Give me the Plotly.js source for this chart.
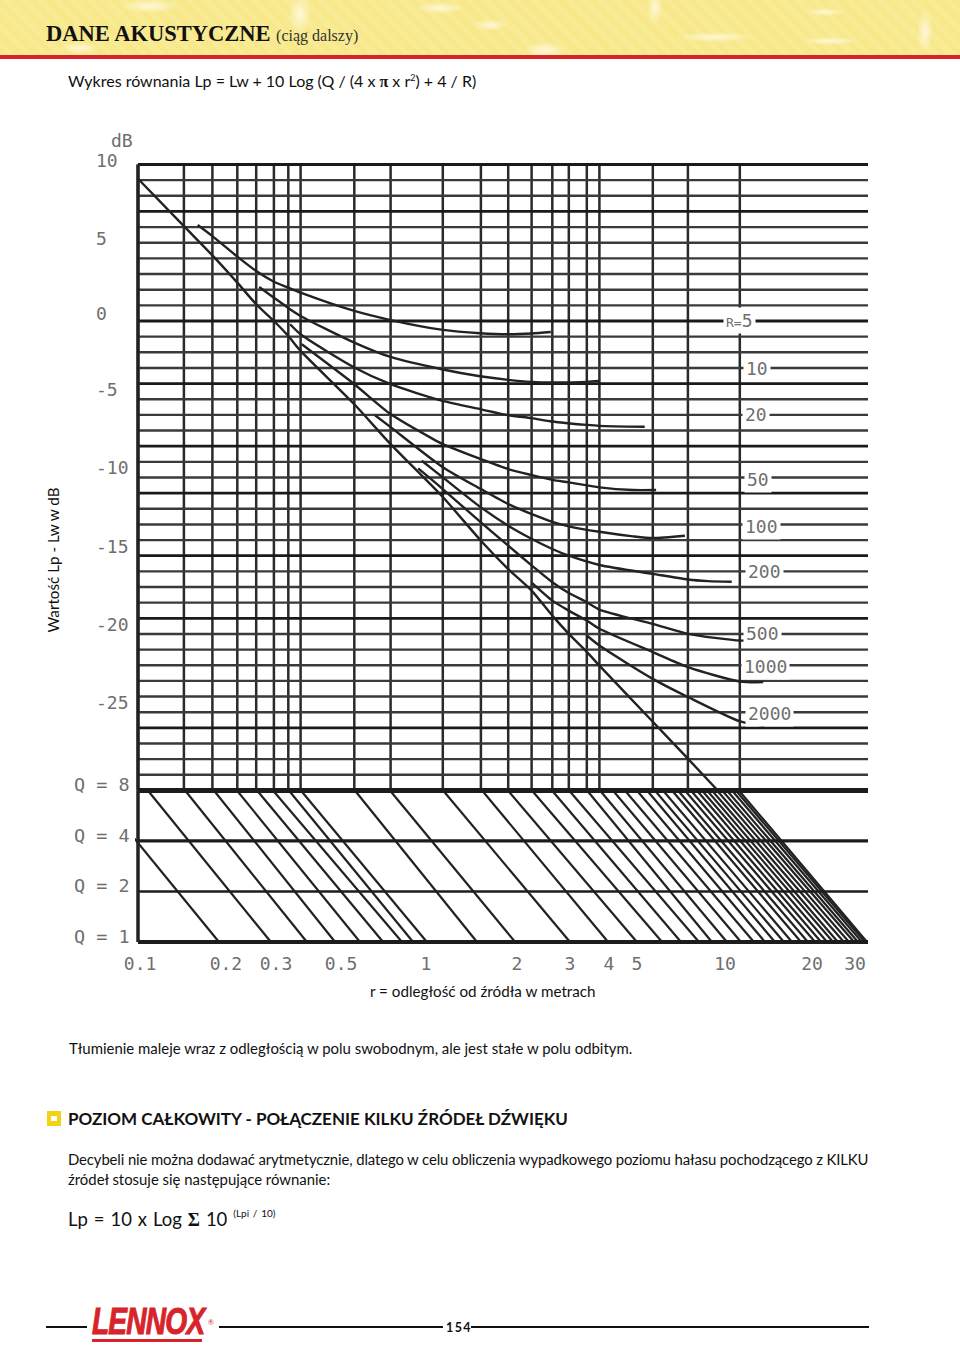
<!DOCTYPE html>
<html lang="pl"><head><meta charset="utf-8">
<script src="https://cdn.plot.ly/plotly-3.0.1.min.js"></script>
<style>
html,body{margin:0;padding:0;background:#fff}
#page{position:relative;width:960px;height:1345px;overflow:hidden;font-family:Lato,"Open Sans",sans-serif;color:#111}
#head{position:absolute;left:0;top:0;width:960px;height:55px;background:
 radial-gradient(ellipse 40px 5px at 715px 37px,#fff8d8 0,transparent 100%),
 radial-gradient(ellipse 30px 4px at 830px 41px,#fff8d8 0,transparent 100%),
 radial-gradient(ellipse 20px 4px at 825px 12px,#fff8d8 0,transparent 100%),
 radial-gradient(ellipse 8px 22px at 925px 32px,#fff8d8 0,transparent 100%),
 radial-gradient(ellipse 8px 16px at 655px 8px,#fff8d8 0,transparent 100%),
 radial-gradient(ellipse 22px 8px at 545px 50px,#fff8d8 0,transparent 100%),
 radial-gradient(ellipse 18px 6px at 490px 25px,#fff8d8 0,transparent 100%),
 radial-gradient(ellipse 25px 6px at 440px 8px,#fff8d8 0,transparent 100%),
 radial-gradient(ellipse 30px 7px at 150px 6px,#fff8d8 0,transparent 100%),
 radial-gradient(ellipse 20px 6px at 80px 48px,#fff8d8 0,transparent 100%),
 radial-gradient(ellipse 12px 20px at 300px 14px,#fff8d8 0,transparent 100%),
 repeating-linear-gradient(45deg,#f6e580 0 1px,#f9ee9e 1px 2px)}
#rule{position:absolute;left:0;top:55px;width:960px;height:4px;background:#d8232a}
.t{position:absolute;white-space:nowrap}
#plot{position:absolute;left:0;top:100px;width:868px;height:900px}
.hr{position:absolute;height:2px;background:#111}
</style></head><body><div id="page">
<div id="head"></div><div id="rule"></div>
<div class="t" style="left:46px;top:19px;font:bold 22.5px 'Liberation Serif',serif;line-height:30px">DANE AKUSTYCZNE <span style="font:16px 'Liberation Serif',serif;color:#333">(ciąg dalszy)</span></div>
<div class="t" style="left:68px;top:71px;font-size:16px;line-height:20px">Wykres równania Lp = Lw + 10 Log (Q / (4 x <b style="font-family:'Liberation Serif',serif">π</b> x r<sup style="font-size:9px;line-height:0">2</sup>) + 4 / R)</div>
<div id="plot"></div>
<div class="t" style="left:69px;top:1039px;font-size:14.95px;line-height:18px">Tłumienie maleje wraz z odległością w polu swobodnym, ale jest stałe w polu odbitym.</div>
<div style="position:absolute;left:47px;top:1111px;width:6px;height:5px;border:4px solid #f2d417;border-width:5px 4px;background:#fff"></div>
<div class="t" style="left:68px;top:1109px;font-size:17px;line-height:20px;font-weight:700">POZIOM CAŁKOWITY - POŁĄCZENIE KILKU ŹRÓDEŁ DŹWIĘKU</div>
<div class="t" style="left:68px;top:1150px;font-size:14.9px;line-height:18px;letter-spacing:-0.12px">Decybeli nie można dodawać arytmetycznie, dlatego w celu obliczenia wypadkowego poziomu hałasu pochodzącego z KILKU</div>
<div class="t" style="left:68px;top:1170px;font-size:14.9px;line-height:18px">źródeł stosuje się następujące równanie:</div>
<div class="t" style="left:68px;top:1207px;font-size:18.5px;line-height:24px;word-spacing:1.2px">Lp = 10 x Log <b style="font-family:'Liberation Serif',serif">Σ</b> 10 <sup style="font-size:10px;line-height:0;position:relative;top:-2px">(Lpi / 10)</sup></div>
<div class="hr" style="left:46px;top:1326px;width:41px"></div>
<div class="t" style="left:92px;top:1302px;width:140px;overflow:visible;font:italic bold 36px/40px 'Liberation Sans',sans-serif;color:#d8232a;letter-spacing:-1px;-webkit-text-stroke:1px #d8232a;transform-origin:0 50%;transform:scaleX(0.78)">LENNOX</div>
<div class="t" style="left:208px;top:1318px;font:7px/9px Lato,sans-serif;color:#d8232a">®</div>
<div style="position:absolute;left:92px;top:1339px;width:110px;height:3px;background:#d8232a"></div>
<div class="hr" style="left:219px;top:1326px;width:224px"></div>
<div class="t" style="left:446px;top:1319px;font-size:12.5px;line-height:17px;font-weight:700;letter-spacing:1.4px">154</div>
<div class="hr" style="left:471px;top:1326px;width:398px"></div>
</div>
<script>
// ---- values; distances are log10(r in metres), levels in dB ----
const gridLogR=[-1,-0.847,-0.752,-0.669,-0.606,-0.547,-0.499,-0.458,-0.279,-0.158,0.016,0.143,0.234,0.312,0.381,0.436,0.496,0.538,0.716,0.833,1.006];
const gridDbThin=[9,8,6,5,4,3,2,1,-1,-2,-3,-5,-6,-7,-9,-10,-12,-13,-14,-16,-17,-18,-20,-21,-22,-23,-24,-25,-27,-28,-29];
const gridDbThick=[10,7,0,-4,-8,-11,-15,-19,-26];
const qLevels=[8,4,2,1];
const qWidths=[5,3.2,2.4,4];

const directLogR=[-1,-0.847,-0.752,-0.669,-0.606,-0.547,-0.499,-0.458,-0.279,-0.158,0.016,0.143,0.234,0.312,0.381,0.436,0.496,0.538,0.716,0.833,0.927];
const directDb=[9.09,6.06,4.19,2.45,1.07,0,-0.96,-1.91,-5.32,-7.87,-11.25,-14.04,-15.85,-17.23,-18.83,-19.99,-21.14,-22.02,-25.61,-27.97,-29.89];

const r5LogR=[-0.801,-0.752,-0.669,-0.606,-0.547,-0.499,-0.458,-0.279,-0.158,0.016,0.14,0.234,0.312,0.376];
const r5Db=[6.13,5.42,4.11,3.19,2.51,2.13,1.81,0.64,0.06,-0.57,-0.78,-0.85,-0.80,-0.70];
const r10LogR=[-0.596,-0.547,-0.499,-0.458,-0.279,-0.158,0.016,0.14,0.234,0.312,0.38,0.496,0.537];
const r10Db=[2.17,1.49,0.83,0.32,-1.38,-2.30,-3.10,-3.53,-3.76,-3.89,-3.93,-3.89,-3.83];
const r20LogR=[-0.493,-0.458,-0.279,-0.158,0.016,0.14,0.234,0.312,0.38,0.496,0.537,0.689];
const r20Db=[-0.21,-0.85,-2.97,-4.04,-5.11,-5.63,-6.02,-6.21,-6.42,-6.64,-6.70,-6.76];
const r50LogR=[-0.454,-0.279,-0.158,-0.016,0.016,0.143,0.234,0.313,0.381,0.436,0.538,0.65,0.727];
const r50Db=[-1.49,-4.04,-5.95,-7.55,-7.87,-8.83,-9.46,-9.85,-10.15,-10.31,-10.63,-10.80,-10.80];
const r100LogR=[-0.21,-0.158,0.016,0.143,0.234,0.313,0.381,0.436,0.538,0.65,0.716,0.823];
const r100Db=[-6.02,-6.78,-9.34,-10.74,-11.70,-12.34,-12.83,-13.12,-13.47,-13.76,-13.87,-13.72];
const r200LogR=[-0.054,0.016,0.143,0.234,0.313,0.381,0.436,0.538,0.716,0.833,0.9,0.979];
const r200Db=[-8.93,-9.99,-11.91,-13.08,-13.93,-14.57,-15.0,-15.59,-16.16,-16.52,-16.62,-16.66];
const r500LogR=[-0.066,0.016,0.143,0.234,0.313,0.381,0.436,0.496,0.538,0.716,0.833,1.007,1.057];
const r500Db=[-9.42,-10.74,-12.87,-14.36,-15.63,-16.69,-17.38,-17.97,-18.44,-19.36,-19.99,-20.42,-20.38];
const r1000LogR=[0.313,0.381,0.436,0.496,0.538,0.716,0.833,1.007,1.084];
const r1000Db=[-16.74,-17.87,-18.51,-19.14,-19.67,-21.16,-22.12,-23.04,-23.08];
const r2000LogR=[0.496,0.538,0.716,0.833,1.007,1.088];
const r2000Db=[-20.10,-20.74,-22.87,-24.03,-25.59,-25.88];

const diagAtQ8=[-1.143,-0.967,-0.843,-0.747,-0.67,-0.603,-0.55,-0.497,-0.457,-0.277,-0.16,0.017,0.147,0.233,0.313,0.38,0.437,0.497,0.54,0.583,0.623,0.663,0.697,0.723,0.75,0.78,0.8,0.823,0.843,0.863,0.88,0.897,0.913,0.93,0.947,0.963,0.98,0.993,1.003];
const diagAtQ1=[-0.73,-0.557,-0.437,-0.343,-0.26,-0.183,-0.12,-0.083,-0.037,0.13,0.257,0.44,0.567,0.663,0.747,0.81,0.87,0.913,0.963,1.01,1.053,1.09,1.123,1.153,1.18,1.21,1.233,1.257,1.277,1.297,1.317,1.333,1.353,1.37,1.387,1.4,1.413,1.423,1.43];

const xTickText=["0.1","0.2","0.3","0.5","1","2","3","4","5","10","20","30"];
const xTickLogR=[-0.993,-0.707,-0.54,-0.323,-0.04,0.263,0.44,0.57,0.663,0.957,1.247,1.39];
const dbLabelText=["dB","10","5","0","-5","-10","-15","-20","-25"];
const dbLabelAt=[11.56,10.28,5.30,0.51,-4.35,-9.33,-14.37,-19.36,-24.34];
const dbLabelLeft=[-26,-41,-41,-41,-41,-41,-41,-41,-41];
const qLabelText=["Q = 8","Q = 4","Q = 2","Q = 1"];
const qLabelValue=[8,4,2,1];
const rLabelText=["<span style='font-size:13px'>R=</span>5","10","20","50","100","200","500","1000","2000"];
const rLabelLogR=[1.005,1.062,1.06,1.068,1.077,1.087,1.082,1.093,1.105];
const rLabelDb=[0,-3.06,-6.0,-10.15,-13.16,-16.03,-20.0,-22.1,-25.1];

// ---- plumbing ----
const ink='#222', grey='#6f6f6f', mono='"DejaVu Sans Mono","Liberation Mono",monospace';
const xMin=-1.01, xMax=1.4333;
const toR=a=>a.map(v=>Math.pow(10,v));
function segs(pairs){const x=[],y=[];pairs.forEach(p=>{x.push(p[0],p[2],null);y.push(p[1],p[3],null);});return {x,y};}
const traces=[];
function add(name,x,y,width,yaxis,color,smooth){traces.push({type:'scatter',mode:'lines',name,x,y,yaxis:yaxis||'y',hoverinfo:'skip',showlegend:false,line:smooth?{color:color||ink,width,shape:'spline',smoothing:0.7}:{color:color||ink,width}});}

let g=segs(gridLogR.map(v=>[Math.pow(10,v),-30,Math.pow(10,v),10]));
add('vertical grid',g.x,g.y,2.5,'y','#2a2a2a');
g=segs(gridDbThin.map(d=>[0.1,d,Math.pow(10,xMax),d]));
add('dB grid',g.x,g.y,2.4,'y','#3a3a3a');
g=segs(gridDbThick.map(d=>[0.1,d,Math.pow(10,xMax),d]));
add('dB grid bold',g.x,g.y,2.8,'y','#1a1a1a');
g=segs(diagAtQ8.map((v,i)=>[Math.pow(10,v),8,Math.pow(10,diagAtQ1[i]),1]));
add('Q diagonals',g.x,g.y,2.2,'y2','#222');
qLevels.forEach((q,i)=>add('Q='+q,[0.1,Math.pow(10,xMax)],[q,q],qWidths[i],'y2','#1c1c1c'));
add('r axis',[0.1,0.1],[10,-30],3.5,'y','#222');
add('r axis Q',[0.1,0.1],[8,1],3.5,'y2','#222');
add('direct field',toR(directLogR),directDb,2.4,'y',ink,true);
[['R=5',r5LogR,r5Db],['R=10',r10LogR,r10Db],['R=20',r20LogR,r20Db],['R=50',r50LogR,r50Db],['R=100',r100LogR,r100Db],['R=200',r200LogR,r200Db],['R=500',r500LogR,r500Db],['R=1000',r1000LogR,r1000Db],['R=2000',r2000LogR,r2000Db]]
 .forEach(c=>add(c[0],toR(c[1]),c[2],2.4,'y',ink,true));

const labelFont={family:mono,size:18,color:grey};
const qFont={family:mono,size:18.5,color:grey};
const ann=[];
dbLabelText.forEach((t,i)=>ann.push({xref:'paper',yref:'paper',x:0,y:1,yshift:(10.2236-dbLabelAt[i])*-15.655,xshift:dbLabelLeft[i],xanchor:'left',yanchor:'middle',text:t,showarrow:false,font:labelFont}));
qLabelText.forEach((t,i)=>ann.push({xref:'paper',yref:'y2',x:0,y:Math.log10(qLabelValue[i]),yshift:5.5,xshift:-63,xanchor:'left',yanchor:'middle',text:t,showarrow:false,font:qFont}));
rLabelText.forEach((t,i)=>ann.push({xref:'x',yref:'y',x:rLabelLogR[i],y:rLabelDb[i],xanchor:'center',yanchor:'middle',text:t,showarrow:false,font:labelFont,bgcolor:'#fff',borderpad:2}));
ann.push({xref:'paper',yref:'paper',x:0,xshift:-83,y:0.5,yshift:-7,xanchor:'center',yanchor:'middle',textangle:-90,text:'Wartość Lp - Lw w dB',showarrow:false,font:{family:'Lato',size:15.2,color:'#111'}});
ann.push({xref:'paper',yref:'paper',x:0,xshift:348,y:0,yshift:-45,xanchor:'center',yanchor:'middle',text:'r = odległość od źródła w metrach',showarrow:false,font:{family:'Lato',size:15.2,color:'#111'}});

Plotly.newPlot('plot',traces,{
 width:868,height:900,showlegend:false,paper_bgcolor:'rgba(0,0,0,0)',plot_bgcolor:'rgba(0,0,0,0)',
 margin:{l:135,r:0,t:61,b:53.7,pad:0},
 font:{family:mono,color:grey},
 xaxis:{type:'log',range:[xMin,xMax],anchor:'y2',tickmode:'array',tickvals:toR(xTickLogR),ticktext:xTickText,ticks:'outside',ticklen:1,tickwidth:0,tickcolor:'rgba(0,0,0,0)',tickfont:labelFont,tickangle:0,ticklabeloverflow:'allow',showgrid:false,zeroline:false,showline:false},
 yaxis:{domain:[0.19216,1],range:[-30.3,10.2236],anchor:'x',showticklabels:false,ticks:'',showgrid:false,zeroline:false,showline:false},
 yaxis2:{type:'log',domain:[0,0.20323],range:[-0.0238,0.9269],anchor:'x',showticklabels:false,ticks:'',showgrid:false,zeroline:false,showline:false},
 annotations:ann
},{staticPlot:true,displayModeBar:false});
</script></body></html>
